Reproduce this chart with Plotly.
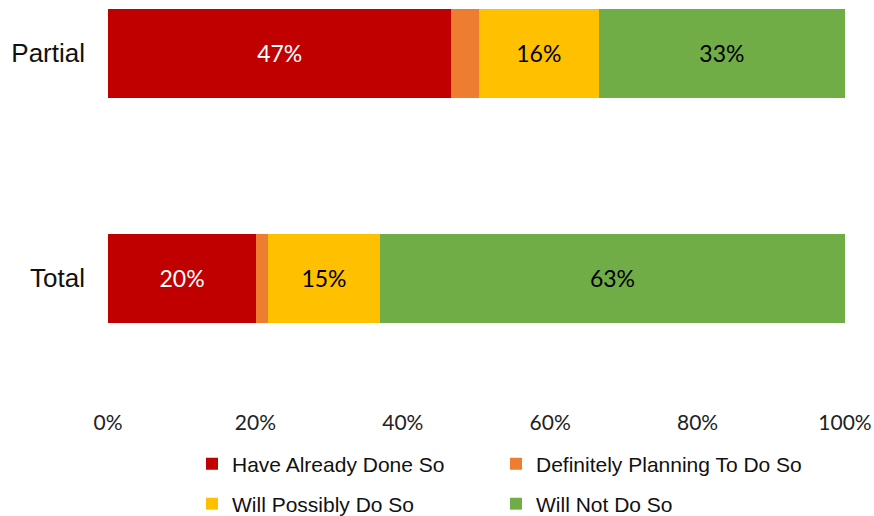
import plotly.graph_objects as go

# Survey groups (bottom to top) and the share of each response, in percent
groups = ["Total", "Partial"]
have_already_done = [20.1, 46.6]
definitely_planning = [1.6, 3.7]
will_possibly = [15.2, 16.3]
will_not = [63.1, 33.4]

# (name, values, colour, label colour, show label, legend slot)
series = [
    ("Have Already Done So", have_already_done, "#C00000", "white", True, "legend"),
    ("Definitely Planning To Do So", definitely_planning, "#ED7D31", "black", False, "legend2"),
    ("Will Possibly Do So", will_possibly, "#FFC000", "black", True, "legend3"),
    ("Will Not Do So", will_not, "#70AD47", "black", True, "legend4"),
]

x_ticks = [0, 20, 40, 60, 80, 100]
x_tick_labels = ["0%", "20%", "40%", "60%", "80%", "100%"]

fig = go.Figure()
for name, values, color, text_color, labelled, legend_id in series:
    fig.add_trace(go.Bar(
        y=groups,
        x=values,
        name=name,
        orientation="h",
        marker=dict(color=color, line=dict(width=0)),
        texttemplate="%{x:.0f}%" if labelled else "",
        textposition="inside",
        insidetextanchor="middle",
        textfont=dict(family="Lato, sans-serif", size=23, color=text_color),
        hoverinfo="skip",
        legend=legend_id,
    ))

legend_style = dict(
    orientation="h",
    xref="container",
    yref="container",
    xanchor="left",
    yanchor="middle",
    font=dict(family="Liberation Sans, Arial, sans-serif", size=21, color="#111"),
    itemwidth=30,
    bgcolor="rgba(0,0,0,0)",
)

# two-by-two legend grid: column left edges and row centres (px)
col_x = [192, 496]
row_y = [464, 504]

fig.update_layout(
    barmode="stack",
    bargap=0.604,
    width=874,
    height=516,
    margin=dict(l=108, r=29, t=0, b=116, autoexpand=False),
    paper_bgcolor="white",
    plot_bgcolor="white",
    showlegend=True,
    legend=dict(legend_style, x=col_x[0] / 874, y=1 - row_y[0] / 516),
    legend2=dict(legend_style, x=col_x[1] / 874, y=1 - row_y[0] / 516),
    legend3=dict(legend_style, x=col_x[0] / 874, y=1 - row_y[1] / 516),
    legend4=dict(legend_style, x=col_x[1] / 874, y=1 - row_y[1] / 516),
    xaxis=dict(
        range=[0, 100],
        tickvals=x_ticks,
        ticktext=x_tick_labels,
        showgrid=False,
        zeroline=False,
        showline=False,
        ticks="",
        ticklabelstandoff=8,
        tickfont=dict(family="Lato, sans-serif", size=21, color="#222"),
        fixedrange=True,
    ),
    yaxis=dict(
        range=[-0.542, 1.236],
        categoryorder="array",
        categoryarray=groups,
        showgrid=False,
        zeroline=False,
        showline=False,
        ticks="",
        ticklabelstandoff=22,
        tickfont=dict(family="Liberation Sans, Arial, sans-serif", size=26, color="#111"),
        fixedrange=True,
    ),
)

fig.write_html("out.html")
